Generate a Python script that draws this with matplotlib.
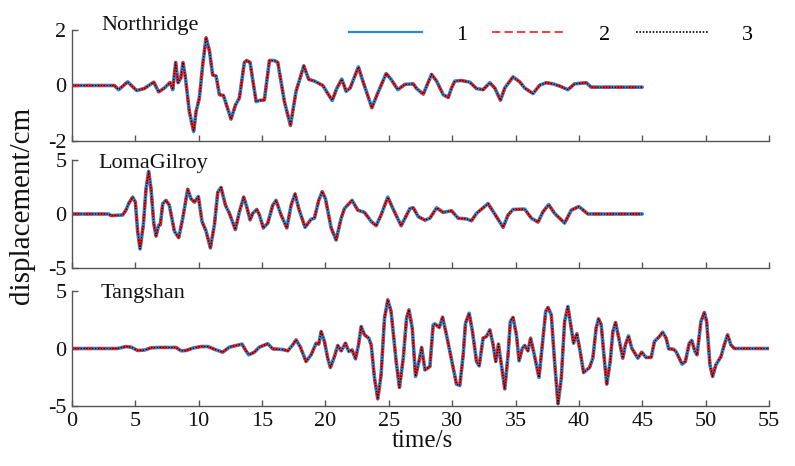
import matplotlib
matplotlib.use('Agg')
import matplotlib.pyplot as plt
from matplotlib.lines import Line2D

plt.rcParams['font.family'] = ['Liberation Serif', 'DejaVu Serif']
plt.rcParams['axes.unicode_minus'] = False

# ---------------- data ----------------
north_t = [0, 3.34, 3.68, 4.39, 5.1, 5.7, 6.45, 6.84, 7.29, 7.74, 7.95, 8.18, 8.37, 8.58, 8.76, 8.95,
           9.26, 9.6, 9.79, 10.05, 10.32, 10.58, 10.84, 11.1, 11.37, 11.63, 11.95, 12.55, 12.9, 13.21,
           13.6, 13.79, 14.05, 14.53, 14.79, 15.18, 15.58, 15.97, 16.24, 16.76, 17.24, 17.68, 18.29,
           18.68, 19.13, 19.79, 20.53, 20.89, 21.29, 21.63, 21.95, 22.6, 22.95, 23.66, 24.13, 24.79,
           25.18, 25.71, 26.27, 26.93, 27.19, 27.72, 28.37, 28.77, 29.29, 29.69, 29.95, 30.21, 30.73,
           31.39, 31.92, 32.44, 32.97, 33.36, 33.81, 34.15, 34.8, 35.33, 35.72, 36.38, 36.9, 37.43,
           37.95, 38.48, 39.13, 39.66, 40.58, 40.97, 45.0]
north_d = [0, 0, -0.15, 0.13, -0.18, -0.11, 0.12, -0.23, -0.09, 0.11, -0.15, 0.83, 0.10, 0.26, 0.83, 0.28,
           -0.94, -1.66, -0.94, -0.45, 0.77, 1.72, 1.26, 0.38, 0.34, -0.33, -0.36, -1.21, -0.70, -0.45,
           0.83, 0.90, 0.83, -0.58, -0.54, -0.52, 0.90, 0.90, 0.83, -0.58, -1.44, -0.21, 0.71,
           0.22, 0.16, 0.0, -0.54, -0.11, 0.23, -0.21, -0.09, 0.67, 0.16, -0.80, -0.27, 0.43,
           0.22, -0.15, 0.04, 0.06, -0.11, -0.31, 0.40, 0.16, -0.33, -0.43, -0.09, 0.16, 0.18,
           0.12, -0.11, -0.15, 0.10, -0.09, -0.53, -0.09, 0.31, 0.13, -0.09, -0.29, 0.01, 0.10,
           0.06, -0.02, -0.15, 0.06, 0.10, -0.06, -0.06]

loma_t = [0, 2.9, 3.08, 4.0, 4.26, 4.47, 4.79, 5.0, 5.18, 5.37, 5.63, 5.84, 6.05, 6.24, 6.45, 6.63,
          6.84, 6.97, 7.16, 7.42, 7.68, 8.08, 8.42, 8.74, 9.13, 9.39, 9.66, 9.97, 10.26, 10.58, 10.92,
          11.24, 11.5, 11.76, 12.11, 12.42, 12.89, 13.21, 13.55, 13.79, 14.05, 14.26, 14.58, 14.79,
          15.1, 15.45, 15.84, 16.1, 16.5, 16.95, 17.29, 17.6, 17.89, 18.39, 18.87, 19.13, 19.47,
          19.74, 20.0, 20.45, 20.84, 21.24, 21.5, 22.1, 22.55, 23.08, 23.61, 24.0, 24.39, 24.92,
          25.32, 25.97, 26.67, 26.93, 27.32, 27.85, 28.24, 28.77, 29.29, 29.95, 30.47, 31.13, 31.52,
          31.92, 32.83, 33.49, 34.02, 34.41, 34.8, 35.72, 36.25, 36.77, 37.17, 37.61, 38.08, 38.87,
          39.4, 40.0, 40.71, 45.0]
loma_d = [0, 0, -0.15, -0.09, 0.36, 0.96, 1.56, 1.1, -1.59, -3.23, -1.0, 2.3, 3.95, 2.3, -0.84, -2.04,
          -1.05, -0.99, 0.96, 1.26, 0.81, -1.59, -2.19, -0.39, 2.3, 1.41, 1.1, 1.62, -0.69, -1.59, -3.14,
          -0.99, 2.0, 2.46, 0.81, 0.06, -1.44, 0.21, 1.56, 0.66, -0.54, 0.06, 0.42, -0.09,
          -1.29, -0.84, 0.81, 1.26, -0.09, -1.29, 0.81, 1.86, 0.51, -1.23, -0.48, -0.39, 1.26,
          2.07, 1.41, -1.29, -2.4, -0.39, 0.51, 1.26, 0.36, 0.15, -0.69, -1.08, -0.09, 1.56,
          0.51, -1.08, 0.51, 0.57, -0.24, -0.57, -0.39, 0.57, 0.15, 0.30, -0.39, -0.45, -0.63,
          0.06, 0.96, -0.24, -1.23, -0.09, 0.42, 0.45, -0.39, -0.75, 0.21, 0.87, 0.06, -0.84,
          0.36, 0.69, 0.0, 0.0]

tang_t = [0, 3.2, 3.6, 4.26, 4.66, 5.18, 5.71, 6.24, 6.89, 8.21, 8.61, 9.0, 9.53, 10.18, 10.71, 11.37,
          11.89, 12.42, 12.95, 13.42, 13.68, 13.95, 14.39, 14.79, 15.45, 15.84, 16.63, 17.03, 17.42,
          17.68, 18.0, 18.47, 18.87, 19.26, 19.47, 19.66, 19.92, 20.18, 20.39, 20.71, 20.97, 21.24,
          21.58, 21.84, 22.1, 22.37, 22.61, 22.82, 23.08, 23.42, 23.61, 23.87, 24.13, 24.39, 24.66,
          24.92, 25.18, 25.58, 25.84, 26.14, 26.4, 26.59, 26.85, 27.11, 27.38, 27.59, 27.85, 28.24,
          28.5, 28.64, 28.98, 29.24, 29.55, 29.95, 30.34, 30.6, 30.87, 31.05, 31.34, 31.6, 31.92,
          32.13, 32.44, 32.7, 32.97, 33.23, 33.44, 33.65, 33.88, 34.15, 34.41, 34.59, 34.8, 35.07,
          35.28, 35.54, 35.72, 35.98, 36.19, 36.51, 36.85, 37.17, 37.38, 37.56, 37.82, 38.08, 38.35,
          38.61, 38.87, 39.13, 39.4, 39.58, 39.84, 40.1, 40.37, 40.84, 41.1, 41.36, 41.55, 41.76,
          42.02, 42.2, 42.47, 42.68, 42.89, 43.15, 43.46, 43.67, 43.91, 44.17, 44.65, 44.96, 45.3,
          45.7, 45.96, 46.35, 46.61, 46.88, 47.09, 47.45, 47.66, 48.14, 48.4, 48.71, 48.9, 49.16,
          49.32, 49.63, 49.9, 50.08, 50.34, 50.55, 50.81, 51.21, 51.47, 51.73, 51.99, 52.26, 55.0]
tang_d = [0, 0, 0.0, 0.17, 0.12, -0.17, -0.14, 0.06, 0.09, 0.09, -0.2, -0.17, 0.03, 0.17, 0.17, -0.12,
          -0.32, 0.12, 0.26, 0.38, -0.12, -0.55, -0.32, 0.12, 0.41, -0.03, -0.09, -0.2, 0.32,
          0.75, 0.17, -1.13, -0.55, 0.46, 0.38, 1.48, 0.61, -0.84, -1.65, -0.7, 0.26, -0.2,
          0.46, -0.26, -0.12, -0.9, 0.32, 1.91, 1.19, 0.9, 0.32, -2.58, -4.38, -2.29, 2.64,
          4.23, 3.22, -1.13, -3.39, -0.84, 2.64, 3.36, 1.77, -2.43, -1.13, 0.09, -1.86, -1.57,
          2.06, 2.14, 1.83, 2.72, 1.19, -0.99, -3.1, -3.22, -0.55, 2.2, 3.07, 1.48, -1.13,
          -1.51, 0.9, 1.04, 1.62, 0.32, -1.13, 0.38, -1.42, -3.51, -0.55, 2.35, 2.7, 1.19,
          -1.07, 0.03, 0.26, -0.2, 0.9, -0.7, -2.52, 0.9, 3.22, 3.57, 2.93, -1.13, -4.8,
          -2.58, 2.35, 3.65, 1.77, 0.46, 1.28, -0.26, -2.09, -1.65, -0.84, 1.77, 2.58, 2.06,
          -1.13, -3.1, -1.13, 1.48, 2.26, 0.9, -0.84, 0.32, 1.1, 0.03, -0.84, -0.32, -0.78,
          -0.78, 0.61, 1.04, 1.42, 0.9, -0.03, -0.06, -0.26, -1.36, -1.13, 0.46, 0.7, -0.26,
          -0.55, 2.35, 3.13, 2.35, -1.42, -2.43, -1.42, -0.7, 0.32, 1.19, 0.32, 0.0, 0.0]

names = ['Northridge', 'LomaGilroy', 'Tangshan']
series_labels = ['1', '2', '3']
x_ticks = [0, 5, 10, 15, 20, 25, 30, 35, 40, 45, 50, 55]
y_ticks = [[-2, 0, 2], [-5, 0, 5], [-5, 0, 5]]
y_lims = [(-2, 2), (-5, 5), (-5, 5)]

# ---------------- figure ----------------
W, H = 795, 466
fig = plt.figure(figsize=(W / 100, H / 100), dpi=100)

def frac_box(left, top, right, bottom):
    return [left / W, 1 - bottom / H, (right - left) / W, (bottom - top) / H]

boxes = [frac_box(72, 30, 769, 141), frac_box(72, 160, 769, 268), frac_box(72, 291, 769, 406)]
data = [(north_t, north_d), (loma_t, loma_d), (tang_t, tang_d)]
name_pos = [(101, 30), (98, 168), (101, 298)]

blue = '#2f87d2'
red = '#ff1a1a'
axcol = '#555555'

for i, (box, (t, d)) in enumerate(zip(boxes, data)):
    ax = fig.add_axes(box)
    ax.plot(t, d, color=blue, lw=2.6, solid_joinstyle='round', solid_capstyle='round')
    ax.plot(t, d, color=red, lw=1.9, ls=(0, (3.2, 1.6)), dash_joinstyle='round')
    ax.plot(t, d, color='black', lw=0.9, ls=(0, (1, 1.3)))
    ax.set_xlim(0, 55)
    ax.set_ylim(*y_lims[i])
    ax.set_xticks(x_ticks)
    ax.set_yticks(y_ticks[i])
    for s in ['top', 'right']:
        ax.spines[s].set_visible(False)
    for s in ['left', 'bottom']:
        ax.spines[s].set_color(axcol)
        ax.spines[s].set_linewidth(1.0)
    ax.tick_params(direction='in', length=4.5, width=1.0, color=axcol,
                   labelsize=16, pad=4, labelcolor='#111111')
    if i < 2:
        ax.tick_params(axis='x', labelbottom=False)
    ax.patch.set_alpha(0)
    fig.text(name_pos[i][0] / W, 1 - name_pos[i][1] / H, names[i], fontsize=16,
             va='baseline', ha='left', color='#111111')

handles = [Line2D([], [], color=blue, lw=1.6),
           Line2D([], [], color=red, lw=1.2, ls=(0, (5, 2.5))),
           Line2D([], [], color='black', lw=1.2, ls=(0, (1, 1)))]
fig.legend(handles, series_labels, ncol=3, frameon=False, loc='upper left',
           bbox_to_anchor=(349 / W, 1 - 24 / H), borderaxespad=0, borderpad=0,
           handlelength=3.3, handletextpad=1.5, columnspacing=1.15, fontsize=16)

fig.text(22 / W, 1 - 205 / H, 'displacement/cm', rotation=90, fontsize=21,
         ha='center', va='center', color='#111111')
fig.text(422 / W, 1 - 441 / H, 'time/s', fontsize=18, ha='center', va='center',
         color='#111111')

fig.savefig('out.png', dpi=100)
